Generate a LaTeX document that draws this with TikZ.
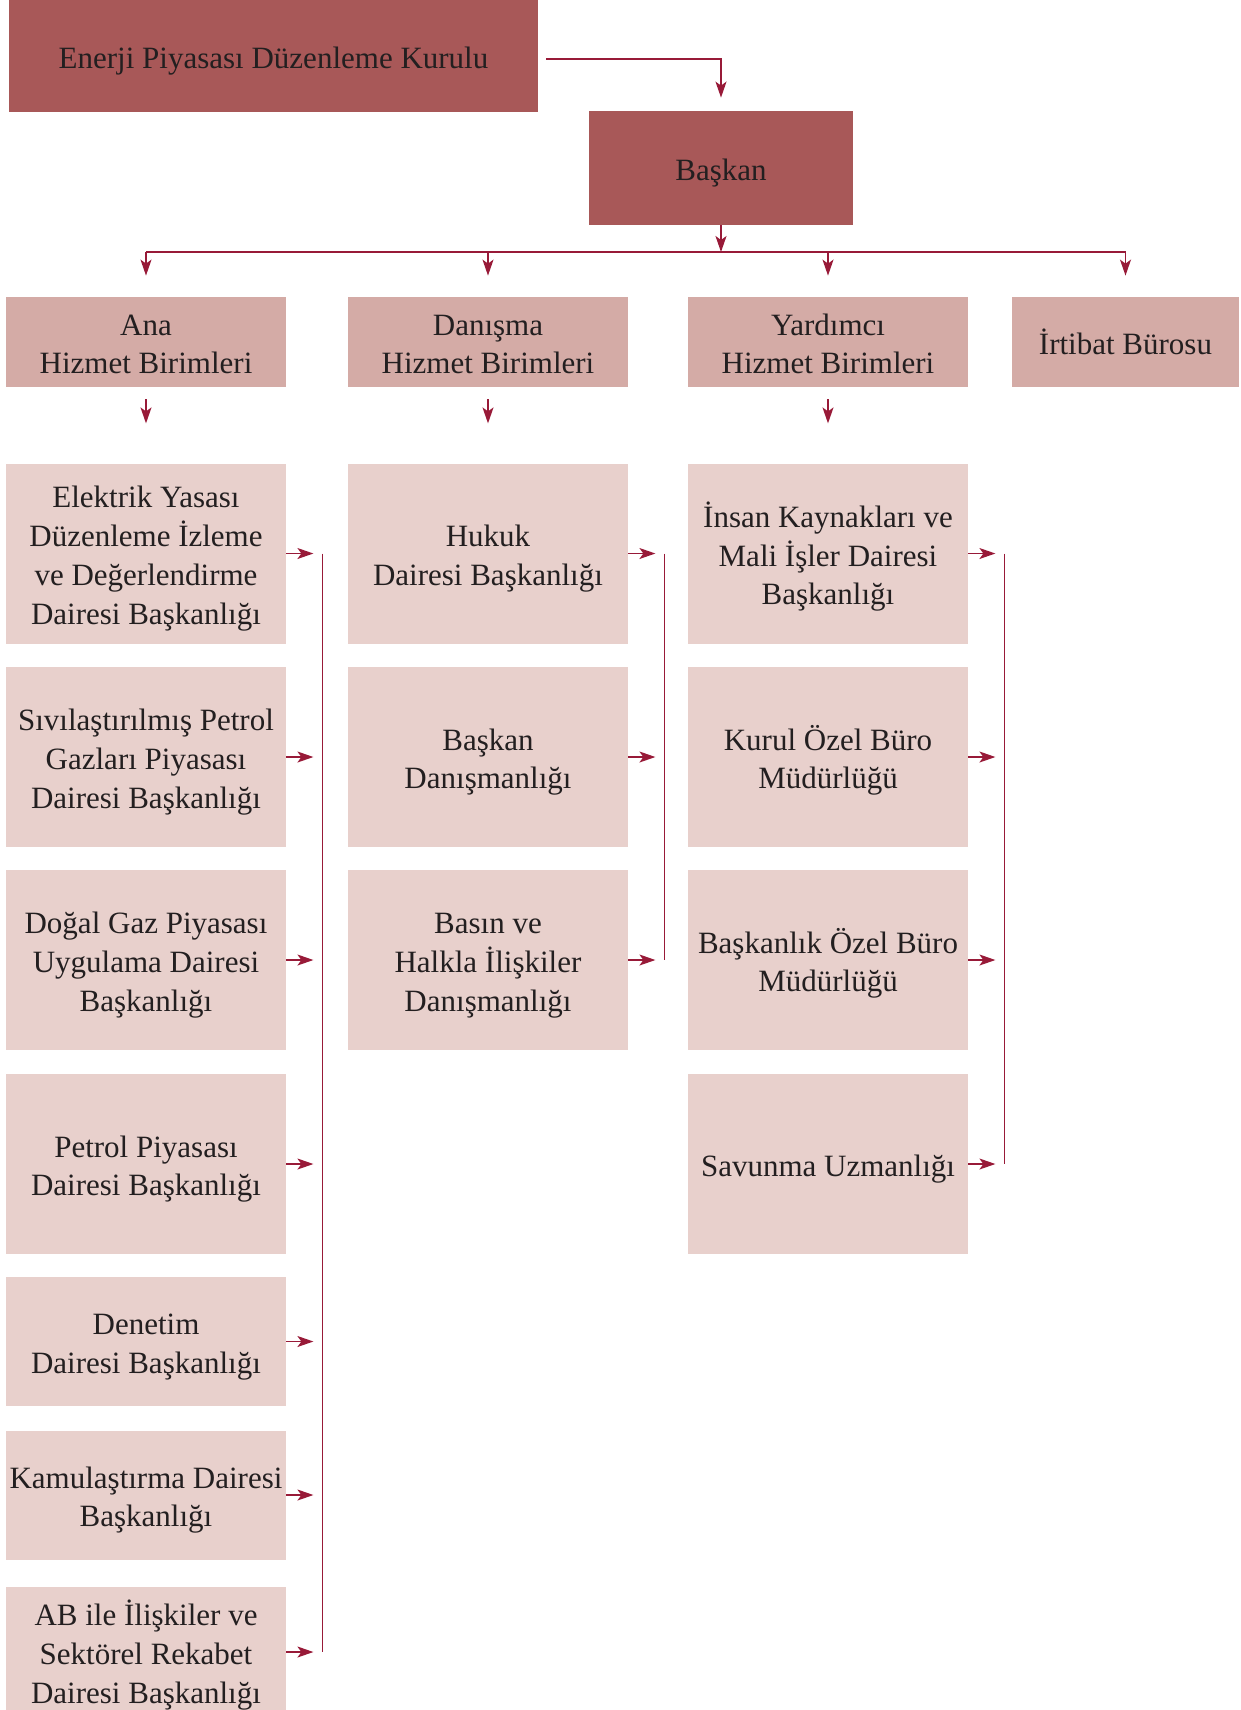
\documentclass[tikz,border=0pt]{standalone}
\usepackage{fontspec}
\setmainfont{Liberation Serif}
\usetikzlibrary{arrows.meta,calc}
\definecolor{darkc}{RGB}{168,88,88}
\definecolor{midc}{RGB}{212,171,166}
\definecolor{lightc}{RGB}{232,208,204}
\definecolor{arrc}{RGB}{152,26,56}
\definecolor{txtc}{RGB}{35,31,32}
\newcommand{\mytop}{\rule{0pt}{17pt}}
\newcommand{\mybot}{\rule[-4.5pt]{0pt}{4.5pt}}
\begin{document}
\begin{tikzpicture}[x=0.5pt,y=-0.5pt,
  box/.style={inner sep=0pt,align=center,text=txtc,font=\fontsize{15.5}{19.4}\selectfont,minimum width=140pt},
  darkbox/.style={box,fill=darkc},
  midbox/.style={box,fill=midc,minimum height=45pt},
  bigbox/.style={box,fill=lightc,minimum height=90pt},
  smallbox/.style={box,fill=lightc,minimum height=64.5pt},
  conn/.style={draw=arrc,line width=0.75pt},
  arr/.style={conn,-{Stealth[length=8pt,width=5.5pt,inset=2pt]}}]
\useasboundingbox (0,0) rectangle (1241,1710);

% top
\node[darkbox,minimum width=264.5pt,minimum height=56pt] (epdk) at (273.5,56) {\mytop Enerji Piyasası Düzenleme Kurulu\mybot};
\node[darkbox,minimum width=132pt,minimum height=57pt] (baskan) at (721,168) {\mytop Başkan\mybot};

% second row
\node[midbox] (ana) at (146,342) {\mytop Ana\\Hizmet Birimleri\mybot};
\node[midbox] (dan) at (488,342) {\mytop Danışma\\Hizmet Birimleri\mybot};
\node[midbox] (yar) at (828,342) {\mytop Yardımcı\\Hizmet Birimleri\mybot};
\node[midbox,minimum width=113.5pt] (irt) at (1125.5,342) {\mytop İrtibat Bürosu\mybot};

% column 1
\node[bigbox] (a1) at (146,553.5) {\mytop Elektrik Yasası\\Düzenleme İzleme\\ve Değerlendirme\\Dairesi Başkanlığı\mybot};
\node[bigbox] (a2) at (146,757) {\mytop Sıvılaştırılmış Petrol\\Gazları Piyasası\\Dairesi Başkanlığı\mybot};
\node[bigbox] (a3) at (146,960) {\mytop Doğal Gaz Piyasası\\Uygulama Dairesi\\Başkanlığı\mybot};
\node[bigbox] (a4) at (146,1164) {\mytop Petrol Piyasası\\Dairesi Başkanlığı\mybot};
\node[smallbox] (a5) at (146,1341.5) {\mytop Denetim\\Dairesi Başkanlığı\mybot};
\node[smallbox] (a6) at (146,1495) {\mytop Kamulaştırma Dairesi\\Başkanlığı\mybot};
\node[smallbox,minimum height=65pt] (a7) at (146,1652) {\mytop AB ile İlişkiler ve\\Sektörel Rekabet\\Dairesi Başkanlığı\mybot};

% column 2
\node[bigbox] (d1) at (488,553.5) {\mytop Hukuk\\Dairesi Başkanlığı\mybot};
\node[bigbox] (d2) at (488,757) {\mytop Başkan\\Danışmanlığı\mybot};
\node[bigbox] (d3) at (488,960) {\mytop Basın ve\\Halkla İlişkiler\\Danışmanlığı\mybot};

% column 3
\node[bigbox] (y1) at (828,553.5) {\mytop İnsan Kaynakları ve\\Mali İşler Dairesi\\Başkanlığı\mybot};
\node[bigbox] (y2) at (828,757) {\mytop Kurul Özel Büro\\Müdürlüğü\mybot};
\node[bigbox] (y3) at (828,960) {\mytop Başkanlık Özel Büro\\Müdürlüğü\mybot};
\node[bigbox] (y4) at (828,1164) {\mytop Savunma Uzmanlığı\mybot};

% connectors top
\draw[arr] ([xshift=4pt,yshift=-1.5pt]epdk.east) -| ([yshift=6.5pt]baskan.north);
\coordinate (bus) at (721,252);
\draw[arr] (baskan.south) -- (bus);
\draw[conn] (ana.north |- bus) -- (irt.north |- bus);
\foreach \n in {ana,dan,yar,irt}
  \draw[arr] (\n.north |- bus) -- ([yshift=10.5pt]\n.north);
\foreach \n in {ana,dan,yar}
  \draw[arr] ([yshift=-6pt]\n.south) -- ([yshift=-18pt]\n.south);

% side arrows
\foreach \n in {a1,a2,a3,a4,a5,a6,a7,d1,d2,d3,y1,y2,y3,y4}
  \draw[arr] (\n.east) -- ([xshift=13.5pt]\n.east);
\draw[conn] ([xshift=18pt]a1.east) -- ([xshift=18pt]a7.east);
\draw[conn] ([xshift=18pt]d1.east) -- ([xshift=18pt]d3.east);
\draw[conn] ([xshift=18pt]y1.east) -- ([xshift=18pt]y4.east);
\end{tikzpicture}
\end{document}
